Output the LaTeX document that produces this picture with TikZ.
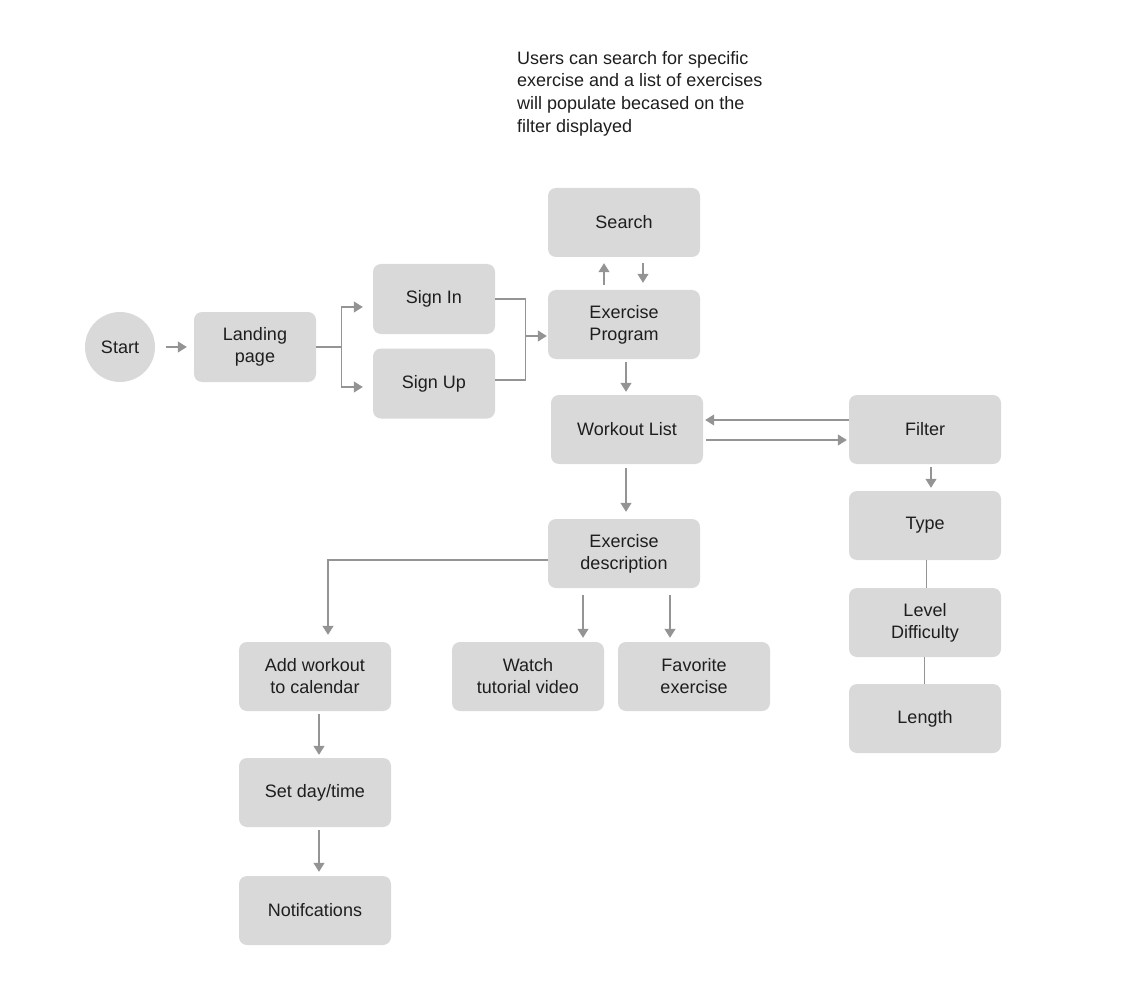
\documentclass[tikz,border=0pt]{standalone}
\usepackage{fontspec}
\setmainfont{Liberation Sans}
\usetikzlibrary{arrows.meta}
\definecolor{boxfill}{HTML}{D9D9D9}
\definecolor{linegray}{HTML}{949494}
\definecolor{ink}{HTML}{1E1E1E}
\begin{document}
\begin{tikzpicture}[x=1pt,y=-1pt,
  box/.style={rectangle, rounded corners=8pt, fill=boxfill, draw=none,
    minimum width=152pt, minimum height=69pt, inner sep=0pt,
    align=center, text=ink, font=\fontsize{18}{22}\selectfont},
  narrowbox/.style={box, minimum width=122pt, minimum height=70pt},
  startnode/.style={circle, fill=boxfill, minimum size=70pt, inner sep=0pt,
    text=ink, font=\fontsize{18}{22}\selectfont},
  conn/.style={draw=linegray, line width=1.3pt},
  arr/.style={conn, -{Triangle[width=11pt,length=9pt]}, color=linegray},
  note/.style={align=left, inner sep=0pt, text=ink,
    font=\fontsize{18}{22.7}\selectfont}]
\useasboundingbox (0,0) rectangle (1132,1008);

% nodes
\node[startnode] (start) at (120,347) {Start};
\node[narrowbox] (lp) at (255,347) {Landing\\page};
\node[narrowbox] (si) at (434,299) {Sign In};
\node[narrowbox] (su) at (434,383.5) {Sign Up};
\node[box] (search) at (624,222.5) {Search};
\node[box] (ep) at (624,324.5) {Exercise\\Program};
\node[box] (wl) at (627,429.5) {Workout List};
\node[box] (filter) at (925,429.5) {Filter};
\node[box] (ed) at (624,553.5) {Exercise\\description};
\node[box] (type) at (925,525.5) {Type};
\node[box] (lvl) at (925,622.5) {Level\\Difficulty};
\node[box] (len) at (925,718.5) {Length};
\node[box] (aw) at (315,676.5) {Add workout\\to calendar};
\node[box] (watch) at (528,676.5) {Watch\\tutorial video};
\node[box] (fav) at (694,676.5) {Favorite\\exercise};
\node[box] (set) at (315,792.5) {Set day/time};
\node[box] (notif) at (315,910.5) {Notifcations};

\node[note, anchor=north west] (note) at (517,51)
  {Users can search for specific\\exercise and a list of exercises\\will populate becased on the\\filter displayed};

% start -> landing page
\draw[arr, shorten <=11pt, shorten >=7pt] (start.east) -- (lp.west);

% landing page splits to sign in / sign up
\coordinate (sp) at ([xshift=25pt]lp.east);
\draw[conn] (lp.east) -- (sp);
\draw[arr, shorten >=10pt] (sp) |- ([yshift=-8pt]si.west);
\draw[arr, shorten >=10pt] (sp) |- ([yshift=-3.5pt]su.west);

% sign in / sign up join into exercise program
\coordinate (jn) at ([xshift=30pt]si.east);
\coordinate (jnb) at ([yshift=3.5pt]su.east);
\draw[conn] (si.east) -- (jn) |- (jnb);
\coordinate (epin) at ([yshift=-11.5pt]ep.west);
\draw[arr, shorten >=1pt] (jn |- epin) -- (epin);

% exercise program <-> search
\draw[arr, shorten <=5pt, shorten >=6pt] ([xshift=-20pt]ep.north) -- ([xshift=-20pt]search.south);
\draw[arr, shorten <=6pt, shorten >=7pt] ([xshift=19pt]search.south) -- ([xshift=19pt]ep.north);

% exercise program -> workout list
\draw[arr, shorten <=3pt, shorten >=3pt] ([xshift=2pt]ep.south) -- ([xshift=-1pt]wl.north);

% workout list <-> filter
\draw[arr, shorten >=2pt] ([yshift=9.5pt]filter.west) -- ([yshift=9.5pt]wl.east);
\draw[arr, shorten <=3pt, shorten >=2pt] ([yshift=-10.5pt]wl.east) -- ([yshift=-10.5pt]filter.west);

% workout list -> exercise description
\draw[arr, shorten <=4pt, shorten >=7pt] ([xshift=-1pt]wl.south) -- ([xshift=2pt]ed.north);

% exercise description -> actions
\coordinate (edl) at ([yshift=-6.5pt]ed.west);
\coordinate (awt) at ([xshift=13pt]aw.north);
\draw[arr, shorten >=7pt] (edl) -| (awt);
\draw[arr, shorten <=7pt, shorten >=4pt] ([xshift=-41pt]ed.south) -- ([xshift=55pt]watch.north);
\draw[arr, shorten <=7pt, shorten >=4pt] ([xshift=46pt]ed.south) -- ([xshift=-24pt]fav.north);

% calendar chain
\draw[arr, shorten <=3pt, shorten >=3pt] ([xshift=4pt]aw.south) -- ([xshift=4pt]set.north);
\draw[arr, shorten <=3pt, shorten >=4pt] ([xshift=4pt]set.south) -- ([xshift=4pt]notif.north);

% filter chain
\draw[arr, shorten <=3pt, shorten >=3pt] ([xshift=6pt]filter.south) -- ([xshift=6pt]type.north);
\draw[conn, line width=1pt] ([xshift=1pt]type.south) -- ([xshift=1pt]lvl.north);
\draw[conn, line width=1pt] ([xshift=-1pt]lvl.south) -- ([xshift=-1pt]len.north);
\end{tikzpicture}
\end{document}
